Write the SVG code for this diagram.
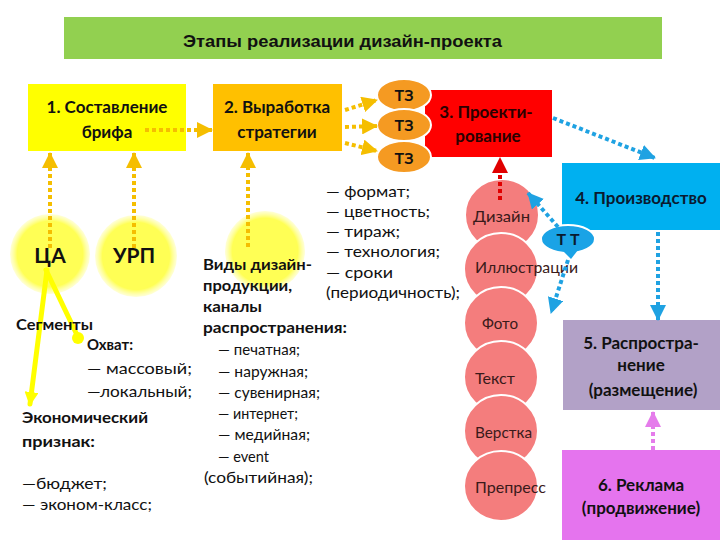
<svg xmlns="http://www.w3.org/2000/svg" width="720" height="540" viewBox="0 0 720 540">
<style>
text{font-family:Lato,"Liberation Sans","DejaVu Sans",sans-serif;fill:#111}
.t{font-size:16px}
.b{font-size:16px;font-weight:bold}
.hb{font-size:17px;font-weight:bold}
.c{text-anchor:middle}
.ttl{font-family:"Liberation Sans",Arial,sans-serif;font-size:17px;font-weight:bold}
.dor{fill:none;stroke:#F5BE00;stroke-width:4;stroke-dasharray:4 3}
.dbl{fill:none;stroke:#1FA2E2;stroke-width:4;stroke-dasharray:4 3}
.drd{fill:none;stroke:#E00000;stroke-width:4;stroke-dasharray:4 3}
.dmg{fill:none;stroke:#E57CEB;stroke-width:4;stroke-dasharray:4 3}
.yl{fill:none;stroke:#FFFF00;stroke-width:5;stroke-linecap:round}
.pk{fill:#F47D7D;stroke:#fff;stroke-width:2}
.tz{fill:#F59A22;stroke:#fff;stroke-width:2}
.pl{font-size:16px;fill:#3a1a1a}
</style>
<defs>
<marker id="aOr" markerUnits="userSpaceOnUse" markerWidth="16" markerHeight="16" viewBox="0 0 16 16" refX="15" refY="8" orient="auto"><path d="M0,0 L16,8 L0,16 z" fill="#F5BE00"/></marker>
<marker id="aBl" markerUnits="userSpaceOnUse" markerWidth="16" markerHeight="16" viewBox="0 0 16 16" refX="15" refY="8" orient="auto"><path d="M0,0 L16,8 L0,16 z" fill="#1FA2E2"/></marker>
<marker id="aRd" markerUnits="userSpaceOnUse" markerWidth="16" markerHeight="16" viewBox="0 0 16 16" refX="15" refY="8" orient="auto"><path d="M0,0 L16,8 L0,16 z" fill="#E00000"/></marker>
<marker id="aMg" markerUnits="userSpaceOnUse" markerWidth="16" markerHeight="16" viewBox="0 0 16 16" refX="15" refY="8" orient="auto"><path d="M0,0 L16,8 L0,16 z" fill="#E57CEB"/></marker>
<marker id="aYl" markerUnits="userSpaceOnUse" markerWidth="14" markerHeight="14" viewBox="0 0 14 14" refX="12" refY="7" orient="auto"><path d="M0,0 L14,7 L0,14 z" fill="#FFFF00"/></marker>
<radialGradient id="yg">
<stop offset="0" stop-color="#FFFF55"/>
<stop offset="0.82" stop-color="#FFFF55"/>
<stop offset="1" stop-color="#FFFF90" stop-opacity="0.35"/>
</radialGradient>
</defs>
<rect width="720" height="540" fill="#fff"/>

<g id="title">
<rect x="64" y="17" width="598" height="42" fill="#92D050"/>
<text class="ttl" x="183" y="47" textLength="319" lengthAdjust="spacingAndGlyphs">Этапы реализации дизайн-проекта</text>
</g>

<g id="circle-ca">
<circle cx="50" cy="254" r="40" fill="url(#yg)"/>
<text x="50" y="263" class="c" style="font-size:21px;font-weight:bold">ЦА</text>
</g>
<g id="circle-urp">
<circle cx="136" cy="256" r="41" fill="url(#yg)"/>
<text x="134" y="263" class="c" style="font-size:21px;font-weight:bold">УРП</text>
</g>
<g id="circle-vidy">
<circle cx="265" cy="251" r="40" fill="url(#yg)"/>
</g>

<g id="box1">
<rect x="28" y="84" width="158" height="67" fill="#FFFF00"/>
<text class="hb c" x="107" y="113">1. Составление</text>
<text class="hb c" x="107" y="138">брифа</text>
</g>
<g id="box2">
<rect x="213" y="84" width="129" height="67" fill="#FFC000"/>
<text class="hb c" x="277" y="113">2. Выработка</text>
<text class="hb c" x="277" y="138">стратегии</text>
</g>
<g id="box3">
<rect x="425" y="90" width="127" height="67" fill="#FF0000"/>
<text class="hb c" x="486" y="118" style="fill:#2a0000">3. Проекти-</text>
<text class="hb c" x="488" y="142" style="fill:#2a0000">рование</text>
</g>
<g id="tz1">
<ellipse cx="404" cy="95" rx="27" ry="16" class="tz"/>
<text class="b c" x="404" y="101">ТЗ</text>
</g>
<g id="tz2">
<ellipse cx="404" cy="125" rx="27" ry="16" class="tz"/>
<text class="b c" x="404" y="131">ТЗ</text>
</g>
<g id="tz3">
<ellipse cx="404" cy="157" rx="27" ry="16" class="tz"/>
<text class="b c" x="404" y="164">ТЗ</text>
</g>
<g id="box4">
<rect x="562" y="163" width="158" height="67" fill="#00B0F0"/>
<text class="hb c" x="641" y="204" style="fill:#0a1a30">4. Производство</text>
</g>
<g id="box5">
<rect x="563" y="320" width="157" height="90" fill="#B2A1C7"/>
<text class="hb c" x="641" y="349">5. Распростра-</text>
<text class="hb c" x="641" y="371">нение</text>
<text class="hb c" x="643" y="396">(размещение)</text>
</g>
<g id="box6">
<rect x="562" y="450" width="158" height="90" fill="#E574EE"/>
<text class="hb c" x="641" y="491">6. Реклама</text>
<text class="hb c" x="641" y="514">(продвижение)</text>
</g>

<g id="pink-circles">
<g id="p-design"><ellipse cx="502" cy="215" rx="37" ry="36" class="pk"/><text class="pl" x="473" y="222" textLength="57" lengthAdjust="spacingAndGlyphs">Дизайн</text></g>
<g id="p-illus"><ellipse cx="501" cy="269" rx="37" ry="36" class="pk"/><text class="pl" x="475" y="273" textLength="103" lengthAdjust="spacingAndGlyphs">Иллюстрации</text></g>
<g id="p-foto"><ellipse cx="501" cy="323" rx="37" ry="36" class="pk"/><text class="pl" x="482" y="329" textLength="36" lengthAdjust="spacingAndGlyphs">Фото</text></g>
<g id="p-text"><ellipse cx="501" cy="377" rx="37" ry="36" class="pk"/><text class="pl" x="475" y="384" textLength="40" lengthAdjust="spacingAndGlyphs">Текст</text></g>
<g id="p-verst"><ellipse cx="501" cy="431" rx="37" ry="36" class="pk"/><text class="pl" x="475" y="438" textLength="57" lengthAdjust="spacingAndGlyphs">Верстка</text></g>
<g id="p-prepress"><ellipse cx="501" cy="486" rx="37" ry="35" class="pk"/><text class="pl" x="475" y="493" textLength="71" lengthAdjust="spacingAndGlyphs">Препресс</text></g>
</g>

<g id="tt">
<ellipse cx="568" cy="239" rx="27" ry="14" fill="#1AA3E6" stroke="#fff" stroke-width="2"/>
<path d="M562,250 L578,250 L571,259 z" fill="#1AA3E6"/>
<text class="b c" x="568" y="245" style="fill:#0a1a30">Т Т</text>
</g>

<g id="connectors">
<line class="dor" x1="145" y1="130" x2="212" y2="130" marker-end="url(#aOr)"/>
<line class="dor" x1="50" y1="248" x2="50" y2="153" marker-end="url(#aOr)"/>
<line class="dor" x1="134" y1="248" x2="134" y2="153" marker-end="url(#aOr)"/>
<line class="dor" x1="248" y1="247" x2="248" y2="153" marker-end="url(#aOr)"/>
<line class="dor" x1="345" y1="110" x2="377" y2="100" marker-end="url(#aOr)"/>
<line class="dor" x1="345" y1="127" x2="377" y2="126" marker-end="url(#aOr)"/>
<line class="dor" x1="345" y1="143" x2="377" y2="151" marker-end="url(#aOr)"/>
<line class="dbl" x1="553" y1="118" x2="655" y2="158" marker-end="url(#aBl)"/>
<line class="dbl" x1="658" y1="232" x2="658" y2="320" marker-end="url(#aBl)"/>
<line class="dbl" x1="558" y1="227" x2="528" y2="193" marker-end="url(#aBl)"/>
<line class="dbl" x1="568" y1="260" x2="551" y2="313" marker-end="url(#aBl)"/>
<line class="drd" x1="500" y1="200" x2="500" y2="158" marker-end="url(#aRd)"/>
<line class="dmg" x1="653" y1="450" x2="653" y2="412" marker-end="url(#aMg)"/>
<line class="yl" x1="46" y1="270" x2="78" y2="337"/>
<circle cx="78" cy="338" r="6" fill="#FFFF00"/>
<line class="yl" x1="47" y1="270" x2="30" y2="404" marker-end="url(#aYl)"/>
</g>

<g id="labels-ca">
<text class="b" x="16" y="330" textLength="77" lengthAdjust="spacingAndGlyphs">Сегменты</text>
<text class="b" x="87" y="350" textLength="46" lengthAdjust="spacingAndGlyphs">Охват:</text>
<text class="t" x="87" y="374" textLength="105" lengthAdjust="spacingAndGlyphs">— массовый;</text>
<text class="t" x="87" y="397" textLength="105" lengthAdjust="spacingAndGlyphs">—локальный;</text>
<text class="b" x="22" y="423" textLength="126" lengthAdjust="spacingAndGlyphs">Экономический</text>
<text class="b" x="22" y="447" textLength="73" lengthAdjust="spacingAndGlyphs">признак:</text>
<text class="t" x="22" y="489" textLength="85" lengthAdjust="spacingAndGlyphs">—бюджет;</text>
<text class="t" x="22" y="510" textLength="130" lengthAdjust="spacingAndGlyphs">— эконом-класс;</text>
</g>

<g id="labels-vidy">
<text class="b" x="203" y="270" textLength="109" lengthAdjust="spacingAndGlyphs">Виды дизайн-</text>
<text class="b" x="203" y="291" textLength="89" lengthAdjust="spacingAndGlyphs">продукции,</text>
<text class="b" x="203" y="312" textLength="59" lengthAdjust="spacingAndGlyphs">каналы</text>
<text class="b" x="203" y="333" textLength="144" lengthAdjust="spacingAndGlyphs">распространения:</text>
<text class="t" x="218" y="355" textLength="82" lengthAdjust="spacingAndGlyphs">— печатная;</text>
<text class="t" x="218" y="377" textLength="90" lengthAdjust="spacingAndGlyphs">— наружная;</text>
<text class="t" x="218" y="398" textLength="102" lengthAdjust="spacingAndGlyphs">— сувенирная;</text>
<text class="t" x="218" y="419" textLength="80" lengthAdjust="spacingAndGlyphs">— интернет;</text>
<text class="t" x="218" y="440" textLength="92" lengthAdjust="spacingAndGlyphs">— медийная;</text>
<text class="t" x="218" y="462" textLength="51" lengthAdjust="spacingAndGlyphs">— event</text>
<text class="t" x="204" y="483" textLength="109" lengthAdjust="spacingAndGlyphs">(событийная);</text>
</g>

<g id="labels-tz">
<text class="t" x="326" y="197" textLength="84" lengthAdjust="spacingAndGlyphs">— формат;</text>
<text class="t" x="326" y="217" textLength="104" lengthAdjust="spacingAndGlyphs">— цветность;</text>
<text class="t" x="326" y="237" textLength="74" lengthAdjust="spacingAndGlyphs">— тираж;</text>
<text class="t" x="326" y="257" textLength="114" lengthAdjust="spacingAndGlyphs">— технология;</text>
<text class="t" x="326" y="278" textLength="67" lengthAdjust="spacingAndGlyphs">— сроки</text>
<text class="t" x="326" y="298" textLength="134" lengthAdjust="spacingAndGlyphs">(периодичность);</text>
</g>
</svg>
